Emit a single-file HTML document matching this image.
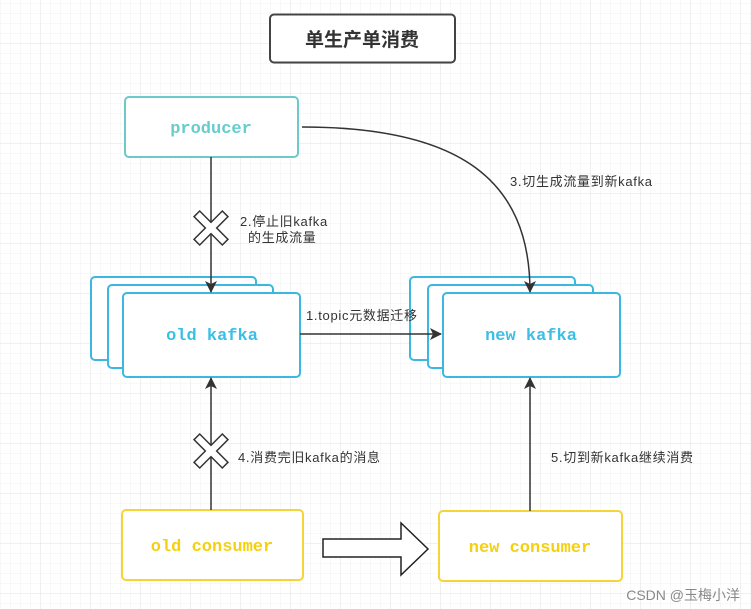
<!DOCTYPE html>
<html><head><meta charset="utf-8"><style>
html,body{margin:0;padding:0;background:#fff}
svg{display:block}
.t{font-family:"Liberation Sans","Noto Sans CJK SC",sans-serif;font-size:13px;letter-spacing:0.7px;fill:#333}
.m{font-family:"Liberation Mono",monospace;font-weight:bold;font-size:17px}
</style></head><body>
<svg width="751" height="609" viewBox="0 0 751 609" xmlns="http://www.w3.org/2000/svg">
<defs>
<pattern id="g" width="10" height="10" patternUnits="userSpaceOnUse"><path d="M10 0V10H0" fill="none" stroke="#f0f0f0" stroke-width="1"/></pattern>
<pattern id="G" width="50" height="50" patternUnits="userSpaceOnUse" x="-9" y="-6"><rect width="50" height="50" fill="url(#g)"/><path d="M50 0V50H0" fill="none" stroke="#e2e2e2" stroke-width="1"/></pattern>
<marker id="a" markerWidth="12" markerHeight="12" refX="11" refY="6" orient="auto" markerUnits="userSpaceOnUse"><path d="M0 0L12 6L0 12L3 6Z" fill="#333"/></marker>
</defs>
<rect width="751" height="609" fill="url(#G)"/>
<rect x="270" y="14.5" width="185" height="48" rx="4" fill="#fff" stroke="#444" stroke-width="2"/>
<text x="362" y="46" text-anchor="middle" font-family="Liberation Sans,Noto Sans CJK SC,sans-serif" font-weight="bold" font-size="19" fill="#333">单生产单消费</text>
<rect x="125" y="97" width="173" height="60" rx="4" fill="#fff" stroke="#6cc9cc" stroke-width="2"/>
<text x="211" y="133" text-anchor="middle" class="m" fill="#66cccc">producer</text>
<rect x="91" y="277" width="165" height="83" rx="4" fill="#fff" stroke="#3ab8e0" stroke-width="2"/>
<rect x="108" y="285" width="165" height="83" rx="4" fill="#fff" stroke="#3ab8e0" stroke-width="2"/>
<rect x="123" y="293" width="177" height="84" rx="4" fill="#fff" stroke="#3ab8e0" stroke-width="2"/>
<text x="212" y="340" text-anchor="middle" class="m" fill="#3abfe6">old kafka</text>
<rect x="410" y="277" width="165" height="83" rx="4" fill="#fff" stroke="#3ab8e0" stroke-width="2"/>
<rect x="428" y="285" width="165" height="83" rx="4" fill="#fff" stroke="#3ab8e0" stroke-width="2"/>
<rect x="443" y="293" width="177" height="84" rx="4" fill="#fff" stroke="#3ab8e0" stroke-width="2"/>
<text x="531" y="340" text-anchor="middle" class="m" fill="#3abfe6">new kafka</text>
<rect x="122" y="510" width="181" height="70" rx="4" fill="#fff" stroke="#f5d43a" stroke-width="2"/>
<text x="212" y="551" text-anchor="middle" class="m" fill="#f5d010">old consumer</text>
<rect x="439" y="511" width="183" height="70" rx="4" fill="#fff" stroke="#f5d43a" stroke-width="2"/>
<text x="530" y="552" text-anchor="middle" class="m" fill="#f5d010">new consumer</text>
<path d="M211 157V292" stroke="#333" stroke-width="1.5" fill="none" marker-end="url(#a)"/>
<path d="M211 510V378" stroke="#333" stroke-width="1.5" fill="none" marker-end="url(#a)"/>
<path d="M530 511V378" stroke="#333" stroke-width="1.5" fill="none" marker-end="url(#a)"/>
<path d="M300 334H441" stroke="#333" stroke-width="1.5" fill="none" marker-end="url(#a)"/>
<path d="M302 127C460 127 530 180 530 292" stroke="#333" stroke-width="1.5" fill="none" marker-end="url(#a)"/>
<g transform="translate(211,228) rotate(45)"><path d="M-4 -20H4V-4H20V4H4V20H-4V4H-20V-4H-4Z" fill="#fff" stroke="#333" stroke-width="1.5"/></g>
<g transform="translate(211,451) rotate(45)"><path d="M-4 -20H4V-4H20V4H4V20H-4V4H-20V-4H-4Z" fill="#fff" stroke="#333" stroke-width="1.5"/></g>
<path d="M323 539H401V523L428 549L401 575V557H323Z" fill="#fff" stroke="#222" stroke-width="1.5"/>
<text x="240" y="226" class="t">2.停止旧kafka</text>
<text x="248" y="242" class="t">的生成流量</text>
<text x="306" y="320" class="t">1.topic元数据迁移</text>
<text x="510" y="186" class="t">3.切生成流量到新kafka</text>
<text x="238" y="462" class="t">4.消费完旧kafka的消息</text>
<text x="551" y="462" class="t">5.切到新kafka继续消费</text>
<text x="740" y="600" text-anchor="end" font-family="Liberation Sans,Noto Sans CJK SC,sans-serif" font-size="14" fill="#888">CSDN @玉梅小洋</text>
</svg>
</body></html>
